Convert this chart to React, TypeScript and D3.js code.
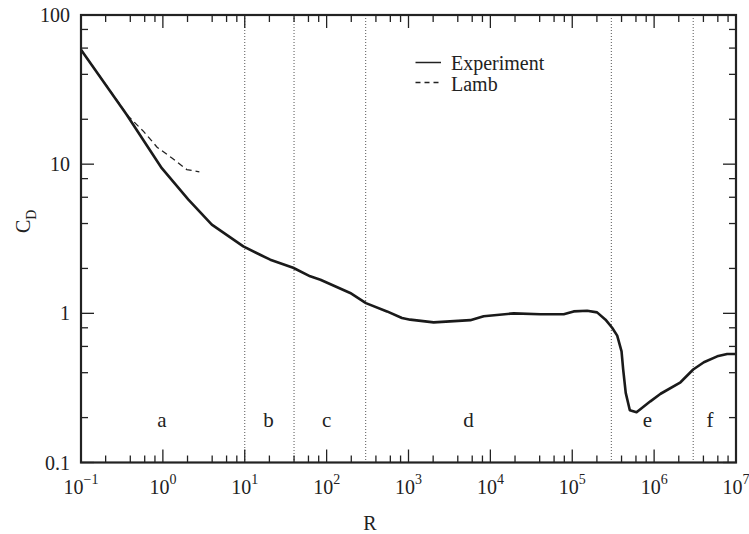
import React from "react";
import * as d3 from "d3";

// Drag coefficient of a sphere versus Reynolds number
const expR = [0.1, 0.36, 0.97, 2.05, 3.96, 9.6, 15.4, 20.5, 39, 63, 84, 194, 302, 546, 832, 1050, 2030, 5690, 8280, 19300, 40700, 78700, 1.04e5, 1.52e5, 2.01e5, 2.55e5, 3.07e5, 3.54e5, 4.0e5, 4.19e5, 4.5e5, 5.05e5, 6.1e5, 9.0e5, 1.2e6, 2.1e6, 3.0e6, 4.05e6, 5.9e6, 7.8e6, 1e7];
const expCD = [58.5, 21.5, 9.4, 5.78, 3.93, 2.81, 2.47, 2.29, 2.02, 1.77, 1.68, 1.37, 1.17, 1.03, 0.93, 0.907, 0.87, 0.9, 0.955, 1.0, 0.985, 0.985, 1.03, 1.04, 1.015, 0.907, 0.8, 0.709, 0.556, 0.42, 0.293, 0.224, 0.217, 0.257, 0.289, 0.345, 0.42, 0.47, 0.515, 0.534, 0.534];

// Lamb's low-Reynolds-number approximation
const lambR = [0.1, 0.38, 0.58, 0.85, 1.29, 1.96, 2.79];
const lambCD = [58.5, 20.9, 16.6, 13.0, 11.0, 9.2, 8.87];

// Flow regime boundaries and labels
const regimeBounds = [10, 40, 300, 3e5, 3e6];
const regimeLabels = ["a", "b", "c", "d", "e", "f"];
const regimeLabelR = [0.97, 19.5, 100, 5400, 8.3e5, 4.8e6];

const xDecades = [-1, 0, 1, 2, 3, 4, 5, 6, 7];
const yTickValues = [0.1, 1, 10, 100];
const yTickLabels = ["0.1", "1", "10", "100"];
const minorMult = [2, 4, 6, 8];

const FONT = '"Liberation Serif", "Times New Roman", Times, serif';

export default function App() {
  const W = 749, H = 534;
  const left = 81, right = 736, top = 15, bottom = 462.5;
  const x = d3.scaleLog().domain([0.1, 1e7]).range([left, right]);
  const y = d3.scaleLog().domain([0.1, 100]).range([bottom, top]);

  const line = d3.line<[number, number]>().x(d => x(d[0])).y(d => y(d[1]));
  const expPath = line(expR.map((r, i) => [r, expCD[i]] as [number, number])) || "";
  const lambPath = line(lambR.map((r, i) => [r, lambCD[i]] as [number, number])) || "";

  const xMajor = xDecades.map(k => Math.pow(10, k));
  const xMinor: number[] = [];
  xDecades.slice(0, -1).forEach(k => minorMult.forEach(m => xMinor.push(m * Math.pow(10, k))));
  const yMinor: number[] = [];
  [-1, 0, 1].forEach(k => minorMult.forEach(m => yMinor.push(m * Math.pow(10, k))));

  const majLen = 13, minLen = 7;
  const tickStroke = { stroke: "#222", strokeWidth: 1.3 };

  return (
    <svg width={W} height={H} style={{ position: "absolute", left: 0, top: 0, background: "#fff", fontFamily: FONT }}>
      {/* regime boundaries */}
      {regimeBounds.map((r, i) => (
        <line key={"rb" + i} x1={x(r)} x2={x(r)} y1={top} y2={bottom} stroke="#555" strokeWidth={1} strokeDasharray="1,2" />
      ))}
      {regimeLabels.map((t, i) => (
        <text key={"rl" + i} x={x(regimeLabelR[i])} y={427} fontSize={21} textAnchor="middle" fill="#222">{t}</text>
      ))}

      {/* x ticks, bottom and top */}
      {xMajor.map((v, i) => (
        <g key={"xM" + i}>
          <line x1={x(v)} x2={x(v)} y1={bottom} y2={bottom - majLen} {...tickStroke} />
          <line x1={x(v)} x2={x(v)} y1={top} y2={top + majLen} {...tickStroke} />
          <text x={x(v)} y={494} fontSize={20} textAnchor="middle" fill="#222">
            <tspan>10</tspan>
            <tspan dy={-10} fontSize={14}>{xDecades[i] < 0 ? "\u2212" + Math.abs(xDecades[i]) : xDecades[i]}</tspan>
          </text>
        </g>
      ))}
      {xMinor.map((v, i) => (
        <g key={"xm" + i}>
          <line x1={x(v)} x2={x(v)} y1={bottom} y2={bottom - minLen} {...tickStroke} />
          <line x1={x(v)} x2={x(v)} y1={top} y2={top + minLen} {...tickStroke} />
        </g>
      ))}

      {/* y ticks, left and right */}
      {yTickValues.map((v, i) => (
        <g key={"yM" + i}>
          <line x1={left} x2={left + majLen} y1={y(v)} y2={y(v)} {...tickStroke} />
          <line x1={right} x2={right - majLen} y1={y(v)} y2={y(v)} {...tickStroke} />
          <text x={70} y={y(v) + 7} fontSize={20} textAnchor="end" fill="#222">{yTickLabels[i]}</text>
        </g>
      ))}
      {yMinor.map((v, i) => (
        <g key={"ym" + i}>
          <line x1={left} x2={left + minLen} y1={y(v)} y2={y(v)} {...tickStroke} />
          <line x1={right} x2={right - minLen} y1={y(v)} y2={y(v)} {...tickStroke} />
        </g>
      ))}

      {/* curves */}
      <path d={lambPath} fill="none" stroke="#222" strokeWidth={1.3} strokeDasharray="6,4" />
      <path d={expPath} fill="none" stroke="#1a1a1a" strokeWidth={2.6} strokeLinejoin="round" />

      {/* frame */}
      <rect x={left} y={top} width={right - left} height={bottom - top} fill="none" stroke="#222" strokeWidth={2.2} />

      {/* axis titles */}
      <text x={370} y={530} fontSize={20} textAnchor="middle" fill="#222">R</text>
      <text transform="translate(30,233) rotate(-90)" fontSize={20} fill="#222">
        <tspan>C</tspan>
        <tspan dy={6} fontSize={14}>D</tspan>
      </text>

      {/* legend */}
      <line x1={415.5} x2={441} y1={62.5} y2={62.5} stroke="#222" strokeWidth={1.5} />
      <text x={451} y={69.5} fontSize={20} fill="#222">Experiment</text>
      <line x1={415.5} x2={441} y1={82.5} y2={82.5} stroke="#222" strokeWidth={1.3} strokeDasharray="5,4" />
      <text x={451} y={91} fontSize={20} fill="#222">Lamb</text>
    </svg>
  );
}
